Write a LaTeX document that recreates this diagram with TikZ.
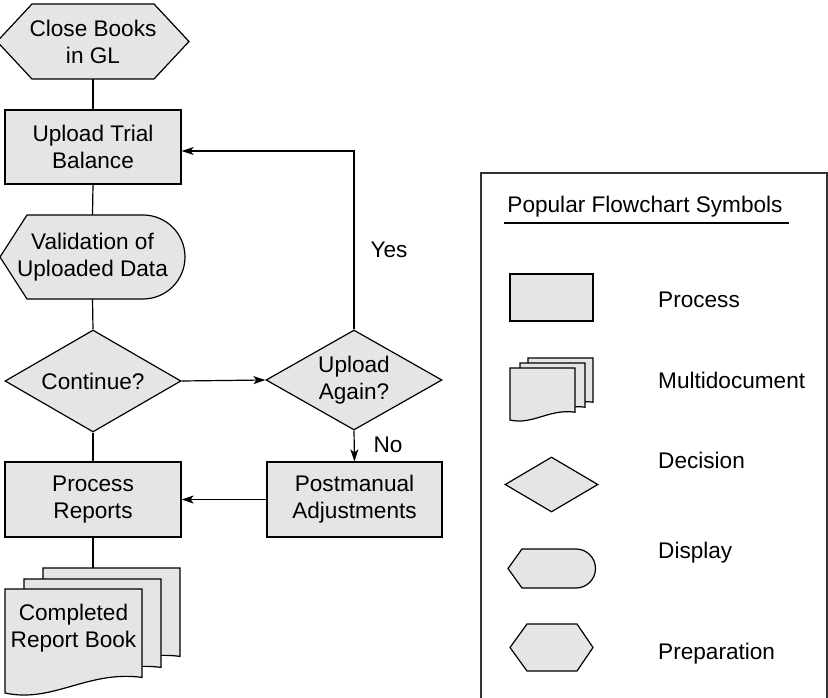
\documentclass[tikz,border=0pt]{standalone}
\usepackage{fontspec}
\setmainfont{Liberation Sans}
\usetikzlibrary{shapes.geometric,arrows.meta,calc}
\definecolor{shapegray}{gray}{0.9}
\tikzset{
  shapefill/.style={draw=black, fill=shapegray, line width=1.2pt, line join=miter},
  procbox/.style={shapefill, rectangle, inner sep=0pt, align=center,
                  minimum width=176pt, minimum height=75pt},
  decbox/.style={shapefill, diamond, shape aspect=1.73, inner sep=0pt, align=center,
                 minimum width=176pt, minimum height=102pt},
  txt/.style={inner sep=0pt, align=center},
  conn/.style={line width=1.2pt},
  arr/.style={conn, -{Stealth[length=12pt,width=8pt,inset=3pt]}},
  boxline/.style={line width=1.5pt, draw=black!80},
}
% document sheet with a wavy bottom edge: top-left corner, width, height
\newcommand\docsheet[4]{%
  \begin{scope}[shift={(#1,#2)}]
    \filldraw[shapefill] (0,0) -- (#3,0) -- (#3,0.85*#4)
      .. controls (0.6*#3,0.78*#4) and (0.35*#3,1.1*#4) .. (0,#4) -- cycle;
  \end{scope}}
\begin{document}
\begin{tikzpicture}[x=1pt, y=-1pt,
  every node/.style={font=\fontsize{22.6}{27}\selectfont}]
\useasboundingbox (0,0) rectangle (828,698);

% ---------- main flow ----------
% preparation: close books
\filldraw[shapefill] (-3,41.5) -- (32,4) -- (154,4) -- (189,41.5) -- (154,79) -- (32,79) -- cycle;
\node[txt, minimum width=192pt, minimum height=75pt] (close) at (93,41.5) {Close Books\\in GL};

% process: upload trial balance
\node[procbox, minimum height=74pt] (upload) at (93,147) {Upload Trial\\Balance};

% display: validation
\filldraw[shapefill] (0,257) -- (27,215) -- (143,215)
  arc[start angle=-90, end angle=90, radius=42] -- (27,299) -- cycle;
\node[txt, minimum width=185pt, minimum height=84pt] (valid) at (92.5,257) {Validation of\\Uploaded Data};

% decisions
\node[decbox] (cont) at (93,381) {Continue?};
\node[decbox, minimum height=100pt] (again) at (354,380) {Upload\\Again?};

% processes
\node[procbox] (reports) at (93,499.5) {Process\\Reports};
\node[procbox, minimum width=175pt] (post) at (354.5,499.5) {Postmanual\\Adjustments};

% multidocument: completed report book
\docsheet{43}{568}{137}{104}
\docsheet{24}{579}{137}{104}
\docsheet{5}{589}{137}{104}
\node[txt] (report) at (73.5,628) {Completed\\Report Book};
\coordinate (reporttop) at (93,568);

% connectors
\draw[conn] (close.south) -- (upload.north);
\draw[conn] (upload.south) -- (valid.north);
\draw[conn] (valid.south) -- (cont.north);
\draw[conn] (cont.south) -- (reports.north);
\draw[conn] (reports.south) -- (reporttop);
\draw[arr] (cont.east) -- (again.west);
\draw[arr] (again.north) |- ($(upload.east)+(0,4)$);
\draw[arr] (again.south) -- (post.north);
\draw[arr] (post.west) -- (reports.east);

\node[txt] (yeslbl) at (389,250) {Yes};
\node[txt] (nolbl) at (388,445) {No};

% ---------- legend ----------
\draw[boxline] (481,702) -- (481,173) -- (827,173) -- (827,702);
\node[txt] (legtitle) at (645,207) {Popular Flowchart Symbols};
\draw[line width=2.5pt] (504,223) -- (789,223);

\node[shapefill, rectangle, minimum width=83pt, minimum height=47pt, inner sep=0pt] (lgproc) at (551.5,297.5) {};
\node[txt, anchor=west] (lgproclbl) at (658,300) {Process};

\docsheet{528}{358}{65}{52}
\docsheet{520}{363}{65}{52}
\docsheet{510}{368}{65}{52}
\node[txt, anchor=west] (lgdoclbl) at (658,380) {Multidocument};

\node[shapefill, diamond, inner sep=0pt, minimum width=93pt, minimum height=55pt] (lgdec) at (551.5,484.5) {};
\node[txt, anchor=west] (lgdeclbl) at (658,460) {Decision};

\filldraw[shapefill] (508,568.5) -- (522,549) -- (576,549)
  arc[start angle=-90, end angle=90, radius=19.5] -- (522,588) -- cycle;
\node[txt, anchor=west] (lgdisplbl) at (658,553) {Display};

\filldraw[shapefill] (510,647.5) -- (527,624) -- (577,624) -- (593,647.5) -- (577,671) -- (527,671) -- cycle;
\node[txt, anchor=west] (lgpreplbl) at (658,654) {Preparation};
\end{tikzpicture}
\end{document}
